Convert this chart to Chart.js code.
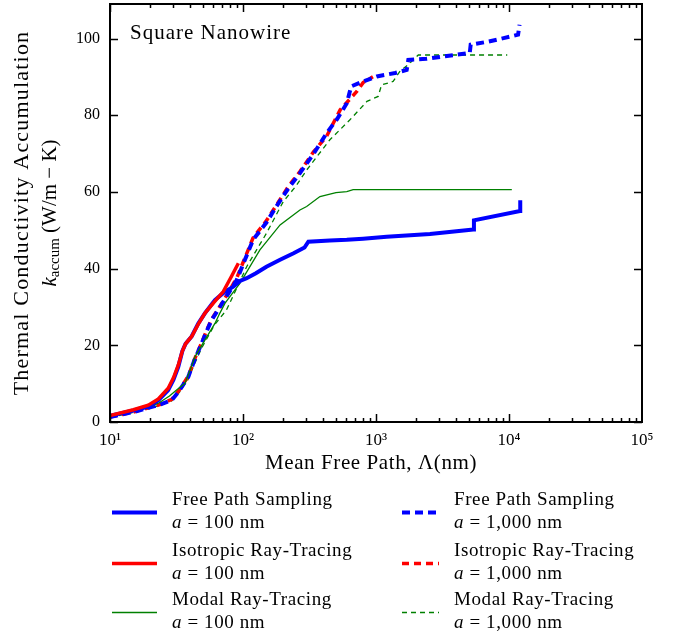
<!DOCTYPE html>
<html>
<head>
<meta charset="utf-8">
<script src="https://cdn.jsdelivr.net/npm/chart.js@4.4.1/dist/chart.umd.min.js"></script>
<style>
  body { margin: 0; background: #fff; }
  #wrap { width: 677px; height: 635px; position: relative; }
</style>
</head>
<body>
<div id="wrap"><canvas id="chart"></canvas></div>
<script>
// accumulation curves (x = mean free path in nm, y = W/m-K)
const fpsX100 = [10, 15, 19.4, 23.1, 27.4, 30, 32.6, 35, 37, 41.1, 46.1, 51.8, 61.5, 72, 84.5, 95, 106.6, 125, 150, 190, 240, 290, 310, 450, 603, 800, 1202, 2546, 5394, 5450, 12100, 12150]
const fpsY100 = [1.6, 3.0, 4.0, 5.7, 8.3, 11, 14.4, 18.5, 20.4, 22.3, 25.7, 28.4, 31.8, 33.8, 35.3, 36.8, 37.5, 38.8, 40.5, 42.3, 44, 45.5, 47, 47.3, 47.5, 47.8, 48.3, 49, 50.2, 52.6, 55, 57.8]

const isoX100 = [10, 15, 19.4, 23.1, 27.4, 30, 32.6, 35, 37, 41.1, 46.1, 51.8, 59.8, 71.1, 82, 92.3]
const isoY100 = [1.7, 3.2, 4.4, 6.0, 8.8, 11.5, 14.8, 18.5, 20.4, 22.3, 25.5, 28.4, 31.0, 34.0, 38, 41.4]

const modX100 = [10, 15, 20, 23.1, 28, 32, 36.6, 40, 43.5, 51.8, 61.5, 67, 73.3, 95, 134, 190, 268, 301, 379, 500, 603, 673, 10500]
const modY100 = [1.4, 2.8, 4.0, 4.9, 6.8, 8.5, 10.1, 13.5, 17.0, 21.4, 25.7, 28.4, 31, 36.2, 44.9, 51.4, 55.3, 56.2, 58.8, 59.8, 60.1, 60.6, 60.6]

const fpsX1000 = [10, 15, 20, 24, 29.1, 33, 38.8, 43, 48.9, 53, 58.1, 70, 89.6, 119, 150, 178, 220, 268, 340, 425, 510, 603, 650, 760, 1014, 1391, 1701, 1750, 2392, 3870, 5070, 5150, 7000, 9100, 11700, 12000]
const fpsY1000 = [1.3, 2.6, 3.8, 4.6, 5.7, 8, 11.8, 16, 20.5, 23.5, 26.6, 31, 37, 47.5, 52, 56.2, 61, 64.9, 70, 75.3, 79, 83.1, 87.5, 88.5, 90.1, 91, 91.8, 94.4, 94.7, 95.7, 96.2, 98.4, 99.2, 100.1, 101, 103.6]

const isoX1000 = [10, 15, 20, 24, 29.1, 33, 38.8, 43, 48.9, 53, 58.1, 70, 89.6, 119, 150, 178, 220, 268, 340, 425, 538, 717, 800, 948]
const isoY1000 = [1.3, 2.6, 3.8, 4.6, 5.9, 8.2, 12, 16.2, 20.7, 23.7, 26.8, 31.2, 37.5, 48, 52.5, 56.5, 61.5, 65.3, 70.5, 74.5, 81.4, 86.2, 88.5, 90.0]

const modX1000 = [10, 15, 20, 24, 29.1, 33, 38.8, 43, 48.9, 55, 61, 75.1, 90, 106.6, 150, 201, 250, 301, 450, 637, 855, 1038, 1101, 1344, 1511, 1800, 2080, 9700]
const modY1000 = [1.2, 2.5, 3.6, 4.4, 5.5, 7.6, 11.2, 15, 19.3, 22.5, 25.3, 29.2, 35, 40.5, 49.2, 57.5, 61.5, 65.7, 73.6, 78.8, 83.6, 84.9, 87.9, 88.8, 91.4, 93.6, 95.7, 95.7]

const yTicks = [0, 20, 40, 60, 80, 100]
const xTickLabels = {10: '10¹', 100: '10²', 1000: '10³', 10000: '10⁴', 100000: '10⁵'}

const serif = '"Liberation Serif", "DejaVu Serif", serif'

function pts(xs, ys) {
    return xs.map((x, i) => ({x: x, y: ys[i]}))
}

function line(label, size, xs, ys, color, width, dash) {
    return {
        label: label, size: size,
        data: pts(xs, ys),
        borderColor: color, backgroundColor: color,
        borderWidth: width, borderDash: dash,
        pointRadius: 0, tension: 0, fill: false
    }
}

const datasets = [
    line('Isotropic Ray-Tracing', '100', isoX100, isoY100, '#ff0000', 3.5, []),
    line('Free Path Sampling', '100', fpsX100, fpsY100, '#0000ff', 4, []),
    line('Modal Ray-Tracing', '100', modX100, modY100, '#008000', 1.3, []),
    line('Free Path Sampling', '1,000', fpsX1000, fpsY1000, '#0000ff', 4, [8, 5]),
    line('Isotropic Ray-Tracing', '1,000', isoX1000, isoY1000, '#ff0000', 3.5, [7, 5]),
    line('Modal Ray-Tracing', '1,000', modX1000, modY1000, '#008000', 1.3, [5, 4])
]

function noPad(s) {
    s.paddingTop = 0; s.paddingBottom = 0; s.paddingLeft = 0; s.paddingRight = 0
}

// frame with inward ticks like matplotlib, plus titles and legend
const decorations = {
    id: 'decorations',
    afterDraw(chart) {
        const c = chart.ctx
        const a = chart.chartArea
        const xs = chart.scales.x, ys = chart.scales.y
        c.save()
        c.strokeStyle = '#000'
        c.lineWidth = 1.5
        // x ticks, top and bottom
        for (let e = 1; e < 5; e++) {
            for (let m = 1; m < 10; m++) {
                const px = Math.round(xs.getPixelForValue(m * Math.pow(10, e))) + 0.5
                const len = m === 1 ? 8 : 4
                c.beginPath()
                c.moveTo(px, a.bottom); c.lineTo(px, a.bottom - len)
                c.moveTo(px, a.top); c.lineTo(px, a.top + len)
                c.stroke()
            }
        }
        yTicks.forEach(v => {
            const py = Math.round(ys.getPixelForValue(v)) + 0.5
            c.beginPath()
            c.moveTo(a.left, py); c.lineTo(a.left + 8, py)
            c.moveTo(a.right, py); c.lineTo(a.right - 8, py)
            c.stroke()
        })
        c.lineWidth = 2
        c.strokeRect(a.left, a.top, a.right - a.left, a.bottom - a.top)

        c.fillStyle = '#000'
        c.textBaseline = 'middle'
        c.font = '21px ' + serif
        c.letterSpacing = '1px'
        c.textAlign = 'left'
        c.fillText('Square Nanowire', 130, 33)

        // x axis title
        c.textAlign = 'center'
        c.letterSpacing = '0.6px'
        c.fillText('Mean Free Path, Λ(nm)', (a.left + a.right) / 2 - 5, 463)

        // y axis title, two lines
        c.translate(0, (a.top + a.bottom) / 2)
        c.rotate(-Math.PI / 2)
        c.font = '22px ' + serif
        c.letterSpacing = '1.2px'
        c.fillText('Thermal Conductivity Accumulation', 0, 22)
        c.letterSpacing = '0px'
        const k = 'k', sub = 'accum', rest = ' (W/m − K)'
        c.font = 'italic 21px ' + serif
        const wk = c.measureText(k).width
        c.font = '15px ' + serif
        const ws = c.measureText(sub).width
        c.font = '21px ' + serif
        const wr = c.measureText(rest).width
        let x0 = -(wk + ws + wr) / 2
        c.textAlign = 'left'
        c.font = 'italic 21px ' + serif
        c.fillText(k, x0, 50)
        c.font = '15px ' + serif
        c.fillText(sub, x0 + wk, 55)
        c.font = '21px ' + serif
        c.fillText(rest, x0 + wk + ws, 50)
        c.restore()

        // legend, two columns of three
        c.save()
        c.letterSpacing = '0.6px'
        chart.data.datasets.forEach(ds => {
            const col = ds.size === '100' ? 0 : 1
            const row = ['Free Path Sampling', 'Isotropic Ray-Tracing', 'Modal Ray-Tracing'].indexOf(ds.label)
            const ly = [512.5, 563.5, 612.5][row]
            const lx = col === 0 ? 112 : 402
            c.strokeStyle = ds.borderColor
            c.lineWidth = ds.borderWidth
            c.setLineDash(ds.borderDash)
            c.beginPath()
            c.moveTo(lx, ly); c.lineTo(lx + 45 - col * 8, ly)
            c.stroke()
            const tx = col === 0 ? 172 : 454
            c.fillStyle = '#000'
            c.textBaseline = 'middle'
            c.textAlign = 'left'
            c.font = '19px ' + serif
            c.fillText(ds.label, tx, ly - 12.5)
            c.font = 'italic 19px ' + serif
            c.fillText('a', tx, ly + 10.5)
            const wa = c.measureText('a').width
            c.font = '19px ' + serif
            c.fillText(' = ' + ds.size + ' nm', tx + wa, ly + 10.5)
        })
        c.restore()
    }
}

new Chart('chart', {
    type: 'line',
    data: {datasets: datasets},
    options: {
        responsive: true,
        maintainAspectRatio: false,
        animation: false,
        layout: {padding: {top: 4, right: 35, left: 0, bottom: 155}},
        plugins: {legend: {display: false}, tooltip: {enabled: false}},
        scales: {
            x: {
                type: 'logarithmic',
                min: 10, max: 100000,
                grid: {display: false, drawTicks: false},
                border: {display: false},
                ticks: {
                    autoSkip: false, maxRotation: 0, padding: 8,
                    color: '#000', font: {family: serif, size: 17},
                    callback: v => xTickLabels[v] || null
                },
                afterFit: s => { s.height = 58; noPad(s) }
            },
            y: {
                min: 0, max: 109,
                grid: {display: false, drawTicks: false},
                border: {display: false},
                afterBuildTicks: s => { s.ticks = yTicks.map(v => ({value: v})) },
                ticks: {
                    padding: 10,
                    color: '#000', font: {family: serif, size: 16}
                },
                afterFit: s => { s.width = 110; noPad(s) }
            }
        }
    },
    plugins: [decorations]
})
</script>
</body>
</html>
